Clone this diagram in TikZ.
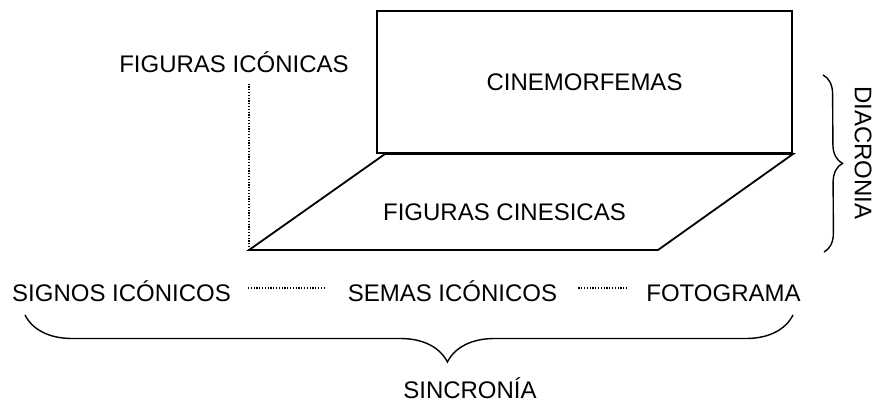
\documentclass[tikz,border=0pt]{standalone}
\usepackage{fontspec}
\setmainfont{Liberation Sans}
\usetikzlibrary{decorations.pathreplacing}
\tikzstyle{plainText} = [
 inner sep = 0pt,
 anchor = base,
 font = \fontsize{24}{28}\selectfont
]
\tikzstyle{frame} = [
 draw,
 line width = 1.8pt,
 line join = miter
]
\tikzstyle{dottedLine} = [
 line width = 1.3pt,
 dash pattern = on 1.2pt off 1.6pt
]
\tikzstyle{bigBrace} = [
 decorate,
 line width = 1.4pt
]

\begin{document}
\begin{tikzpicture}[x=1pt, y=-1pt]
  \useasboundingbox (0,0) rectangle (877,403);
  % upper plane
  \node [frame, minimum width=415pt, minimum height=142pt,
    font=\fontsize{24}{28}\selectfont] (cine) at (584.5,82) {CINEMORFEMAS};
  % lower plane
  \coordinate (p1) at (249,250);
  \coordinate (p2) at (658,250);
  \coordinate (p3) at (793,154);
  \coordinate (p4) at (385,154);
  \draw [frame] (p1) -- (p2) -- (p3) -- (p4) -- cycle;
  \node [plainText] (cin) at (504.5,221) {FIGURAS CINESICAS};
  \node [plainText] (fic) at (234,73) {FIGURAS ICÓNICAS};
  \draw [dottedLine] (p1) -- ([yshift=-10pt]fic.base -| p1);
  % bottom row
  \node [plainText] (sig) at (121.5,301) {SIGNOS ICÓNICOS};
  \node [plainText] (sem) at (452.5,301) {SEMAS ICÓNICOS};
  \node [plainText] (fot) at (723.5,301) {FOTOGRAMA};
  \draw [dottedLine, shorten <=17pt, shorten >=23pt]
    ([yshift=13pt]sig.base east) -- ([yshift=13pt]sem.base west);
  \draw [dottedLine, shorten <=21pt, shorten >=19pt]
    ([yshift=13pt]sem.base east) -- ([yshift=13pt]fot.base west);
  % braces
  \coordinate (s1) at (793,315);
  \coordinate (s2) at (25,315);
  \draw [bigBrace, decoration={brace, amplitude=47pt, aspect=0.45}] (s1) -- (s2);
  \node [plainText] (sin) at (470,398) {SINCRONÍA};
  \coordinate (d1) at (823,75);
  \coordinate (d2) at (824,252);
  \draw [bigBrace, decoration={brace, amplitude=19pt, aspect=0.5}] (d1) -- (d2);
  \node [plainText, anchor=center, rotate=-90] (dia) at (863,153) {DIACRONIA};
\end{tikzpicture}
\end{document}
